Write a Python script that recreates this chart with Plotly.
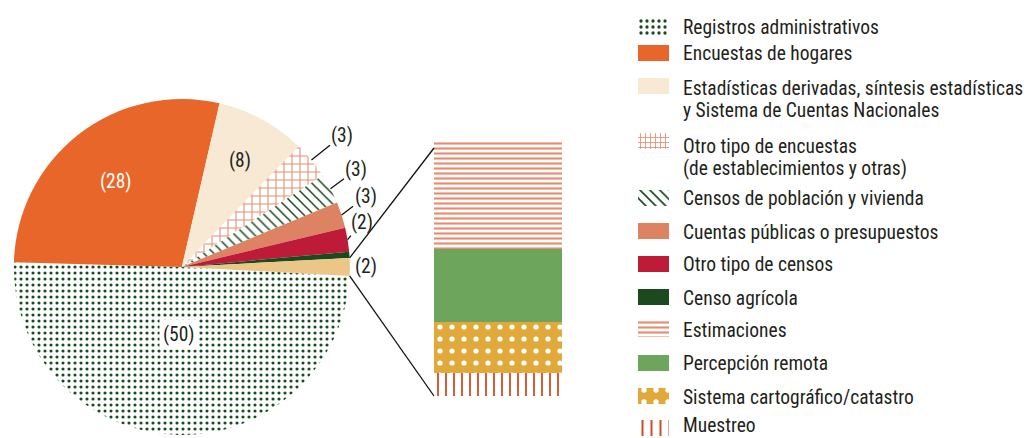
import math
import plotly.graph_objects as go

W, H = 1034, 438

# ---------------- data ----------------
pie_categories = [
    "Registros administrativos",
    "Encuestas de hogares",
    "Estadísticas derivadas, síntesis estadísticas y Sistema de Cuentas Nacionales",
    "Otro tipo de encuestas (de establecimientos y otras)",
    "Censos de población y vivienda",
    "Cuentas públicas o presupuestos",
    "Otro tipo de censos",
    "Censo agrícola",
    "Otras fuentes",
]
pie_shares = [49.5, 28.1, 8.6, 3.6, 2.9, 2.5, 2.3, 0.6, 1.7]
pie_label_values = [50, 28, 8, 3, 3, 3, 2, None, 2]

bar_categories = ["Estimaciones", "Percepción remota",
                  "Sistema cartográfico/catastro", "Muestreo"]
bar_shares = [42.5, 28.3, 20.1, 9.1]

legend_labels = [
    "Registros administrativos",
    "Encuestas de hogares",
    "Estadísticas derivadas, síntesis estadísticas<br>y Sistema de Cuentas Nacionales",
    "Otro tipo de encuestas<br>(de establecimientos y otras)",
    "Censos de población y vivienda",
    "Cuentas públicas o presupuestos",
    "Otro tipo de censos",
    "Censo agrícola",
    "Estimaciones",
    "Percepción remota",
    "Sistema cartográfico/catastro",
    "Muestreo",
]

# ---------------- styles ----------------
FONT = "Liberation Sans Narrow, Arial Narrow, Roboto Condensed, DejaVu Sans Condensed, sans-serif"
TXT = "#231f20"
GREEN_D = "#1a4a20"
ORANGE = "#e8662a"
CREAM = "#f8e9d5"
SALMON = "#e98a6c"
CUENTAS = "#dd8262"
RED = "#be1b39"
TAN = "#ebc687"
GREEN_L = "#6ca55b"
GOLD = "#e1a83a"
MUESTREO = "#cc4a22"

pie_fg = [GREEN_D, ORANGE, CREAM, SALMON, GREEN_D, CUENTAS, RED, "#1b4a1f", TAN]
pie_shape = [".", "", "", "+", "\\", "", "", "", ""]
pie_bg = ["white"] * 9
pie_psize = [6, 8, 8, 8, 7, 8, 8, 8, 8]
pie_solid = [0.22, 0.3, 0.3, 0.24, 0.22, 0.3, 0.3, 0.3, 0.3]
rotation = 93.05

pie_dom_x = [12.7 / W, 351 / W]
pie_dom_y = [(H - 435) / H, (H - 99) / H]

bar_fg = [SALMON, GREEN_L, "white", MUESTREO]
bar_shape = ["-", "", ".", "|"]
bar_bg = ["white", "white", GOLD, "white"]
bar_psize = [5, 8, 12, 8]
bar_solid = [0.42, 0.3, 0.15, 0.22]
bar_dom_x = [434 / W, 562 / W]
bar_dom_y = [(H - 396) / H, (H - 141) / H]

leg_fg = pie_fg[:8] + bar_fg
leg_shape = pie_shape[:8] + bar_shape
leg_bg = pie_bg[:8] + bar_bg
leg_psize = [6, 8, 8, 5, 7, 8, 8, 8, 5, 8, 12, 9]
leg_solid = [0.24, 0.3, 0.3, 0.3, 0.24, 0.3, 0.3, 0.3, 0.42, 0.3, 0.16, 0.22]
leg_swatch_y = [27, 53, 86, 141, 198, 231, 264, 297, 329, 363, 396, 428]
leg_text_y = [27, 53, 88, 146, 198, 232, 264, 298, 330, 363, 397, 425]
leg_line_gap = 22
leg_dom_x = [638 / W, 669 / W]
leg_text_x = 682 / W
LEG_SIZE = 19.5

# label placement per slice: kind, parameter
label_place = [
    ("in", 0.40), ("in", 0.64), ("in", 0.72),
    ("out", (31, -25)), ("out", (26, -19)), ("out", (24, -18)), ("out", (14, -17)),
    None, ("side", 3),
]
label_color = [TXT, "white", TXT, TXT, TXT, TXT, TXT, TXT, TXT]

fig = go.Figure()

fig.add_trace(go.Pie(
    labels=pie_categories, values=pie_shares, sort=False, direction="clockwise",
    rotation=rotation, domain=dict(x=pie_dom_x, y=pie_dom_y),
    textinfo="none", hoverinfo="label+value", showlegend=False,
    marker=dict(colors=pie_fg, line=dict(width=0),
                pattern=dict(shape=pie_shape, fgcolor=pie_fg, bgcolor=pie_bg,
                             size=pie_psize, solidity=pie_solid, fgopacity=1)),
))

# stacked bar (bottom to top)
for i in reversed(range(len(bar_categories))):
    fig.add_trace(go.Bar(
        x=[0], y=[bar_shares[i]], name=bar_categories[i], width=1,
        xaxis="x2", yaxis="y2", showlegend=False,
        marker=dict(color=bar_fg[i], opacity=1, line=dict(width=0),
                    pattern=dict(shape=bar_shape[i], fgcolor=bar_fg[i],
                                 bgcolor=bar_bg[i], size=bar_psize[i],
                                 solidity=bar_solid[i], fgopacity=1,
                                 fillmode="replace")),
    ))

# legend swatches (one small bar per entry)
for k, lab in enumerate(legend_labels):
    fig.add_trace(go.Bar(
        orientation="h", y=[leg_swatch_y[k]], x=[1], base=0, width=16,
        name=lab.replace("<br>", " "), xaxis="x3", yaxis="y3",
        showlegend=False, hoverinfo="skip",
        marker=dict(color=leg_fg[k], opacity=1, line=dict(width=0),
                    pattern=dict(shape=leg_shape[k], fgcolor=leg_fg[k],
                                 bgcolor=leg_bg[k], size=leg_psize[k],
                                 solidity=leg_solid[k], fgopacity=1,
                                 fillmode="replace")),
    ))

annotations = []
for k, lab in enumerate(legend_labels):
    for j, line in enumerate(lab.split("<br>")):
        annotations.append(dict(
            text=line, xref="paper", yref="y3", x=leg_text_x,
            y=leg_text_y[k] + j * leg_line_gap, xanchor="left", yanchor="middle",
            showarrow=False, borderpad=0,
            font=dict(family=FONT, size=LEG_SIZE, color=TXT)))

# pie geometry (same as plotly's layout of the pie)
cx = W * (pie_dom_x[0] + pie_dom_x[1]) / 2
ph = H * (pie_dom_y[1] - pie_dom_y[0])
cy = H * (1 - pie_dom_y[0]) - ph / 2
r = min(W * (pie_dom_x[1] - pie_dom_x[0]), ph) / 2
total = sum(pie_shares)


def pt(phi_deg, rad):
    a = math.radians(phi_deg)
    px = cx + rad * math.sin(a)
    py = cy - rad * math.cos(a)
    return px / W, 1 - py / H


cum = 0
bounds = []
for i, v in enumerate(pie_shares):
    a0 = rotation + 360 * cum / total
    a1 = rotation + 360 * (cum + v) / total
    bounds.append((a0, a1))
    cum += v
    place = label_place[i]
    if place is None or pie_label_values[i] is None:
        continue
    txt = f"({pie_label_values[i]})"
    mid = (a0 + a1) / 2
    f = dict(family=FONT, size=LEG_SIZE, color=label_color[i])
    kind, par = place
    if kind == "in":
        x, y = pt(mid, r * par)
        ann = dict(text=txt, x=x, y=y, xref="paper", yref="paper", showarrow=False,
                   font=f, xanchor="center", yanchor="middle")
        if i == 0:
            ann.update(bgcolor="white", borderpad=3)
        annotations.append(ann)
    elif kind == "out":
        x, y = pt(mid, r)
        annotations.append(dict(text=txt, x=x, y=y, xref="paper", yref="paper",
                                showarrow=True, ax=par[0], ay=par[1], arrowhead=0,
                                arrowwidth=1.3, arrowcolor="#111", standoff=0,
                                font=f))
    else:
        x, y = pt(mid, r)
        annotations.append(dict(text=txt, x=x, y=y, xref="paper", yref="paper",
                                showarrow=False, xanchor="left", yanchor="middle",
                                xshift=par, font=f))

# connector lines from the "other sources" slice to the bar
o0, o1 = bounds[-1]
p_top = pt(o0, r)
p_bot = pt(o1, r)
shapes = [
    dict(type="line", xref="paper", yref="paper", x0=p_top[0], y0=p_top[1],
         x1=bar_dom_x[0], y1=bar_dom_y[1] - 7 / H, line=dict(color="#111", width=1.3)),
    dict(type="line", xref="paper", yref="paper", x0=p_bot[0], y0=p_bot[1],
         x1=bar_dom_x[0], y1=bar_dom_y[0], line=dict(color="#111", width=1.3)),
]

hidden = dict(visible=False, fixedrange=True)
fig.update_layout(
    width=W, height=H, margin=dict(l=0, r=0, t=0, b=0),
    paper_bgcolor="white", plot_bgcolor="white",
    barmode="stack", bargap=0,
    xaxis=dict(visible=False), yaxis=dict(visible=False),
    xaxis2=dict(domain=bar_dom_x, range=[-0.5, 0.5], anchor="y2", **hidden),
    yaxis2=dict(domain=bar_dom_y, range=[0, sum(bar_shares)], anchor="x2", **hidden),
    xaxis3=dict(domain=leg_dom_x, range=[0, 1], anchor="y3", **hidden),
    yaxis3=dict(domain=[0, 1], range=[H, 0], anchor="x3", **hidden),
    annotations=annotations, shapes=shapes, showlegend=False,
    font=dict(family=FONT, color=TXT),
)

fig.write_html("out.html", config=dict(displayModeBar=False),
               post_script="document.body.style.margin='0';")
